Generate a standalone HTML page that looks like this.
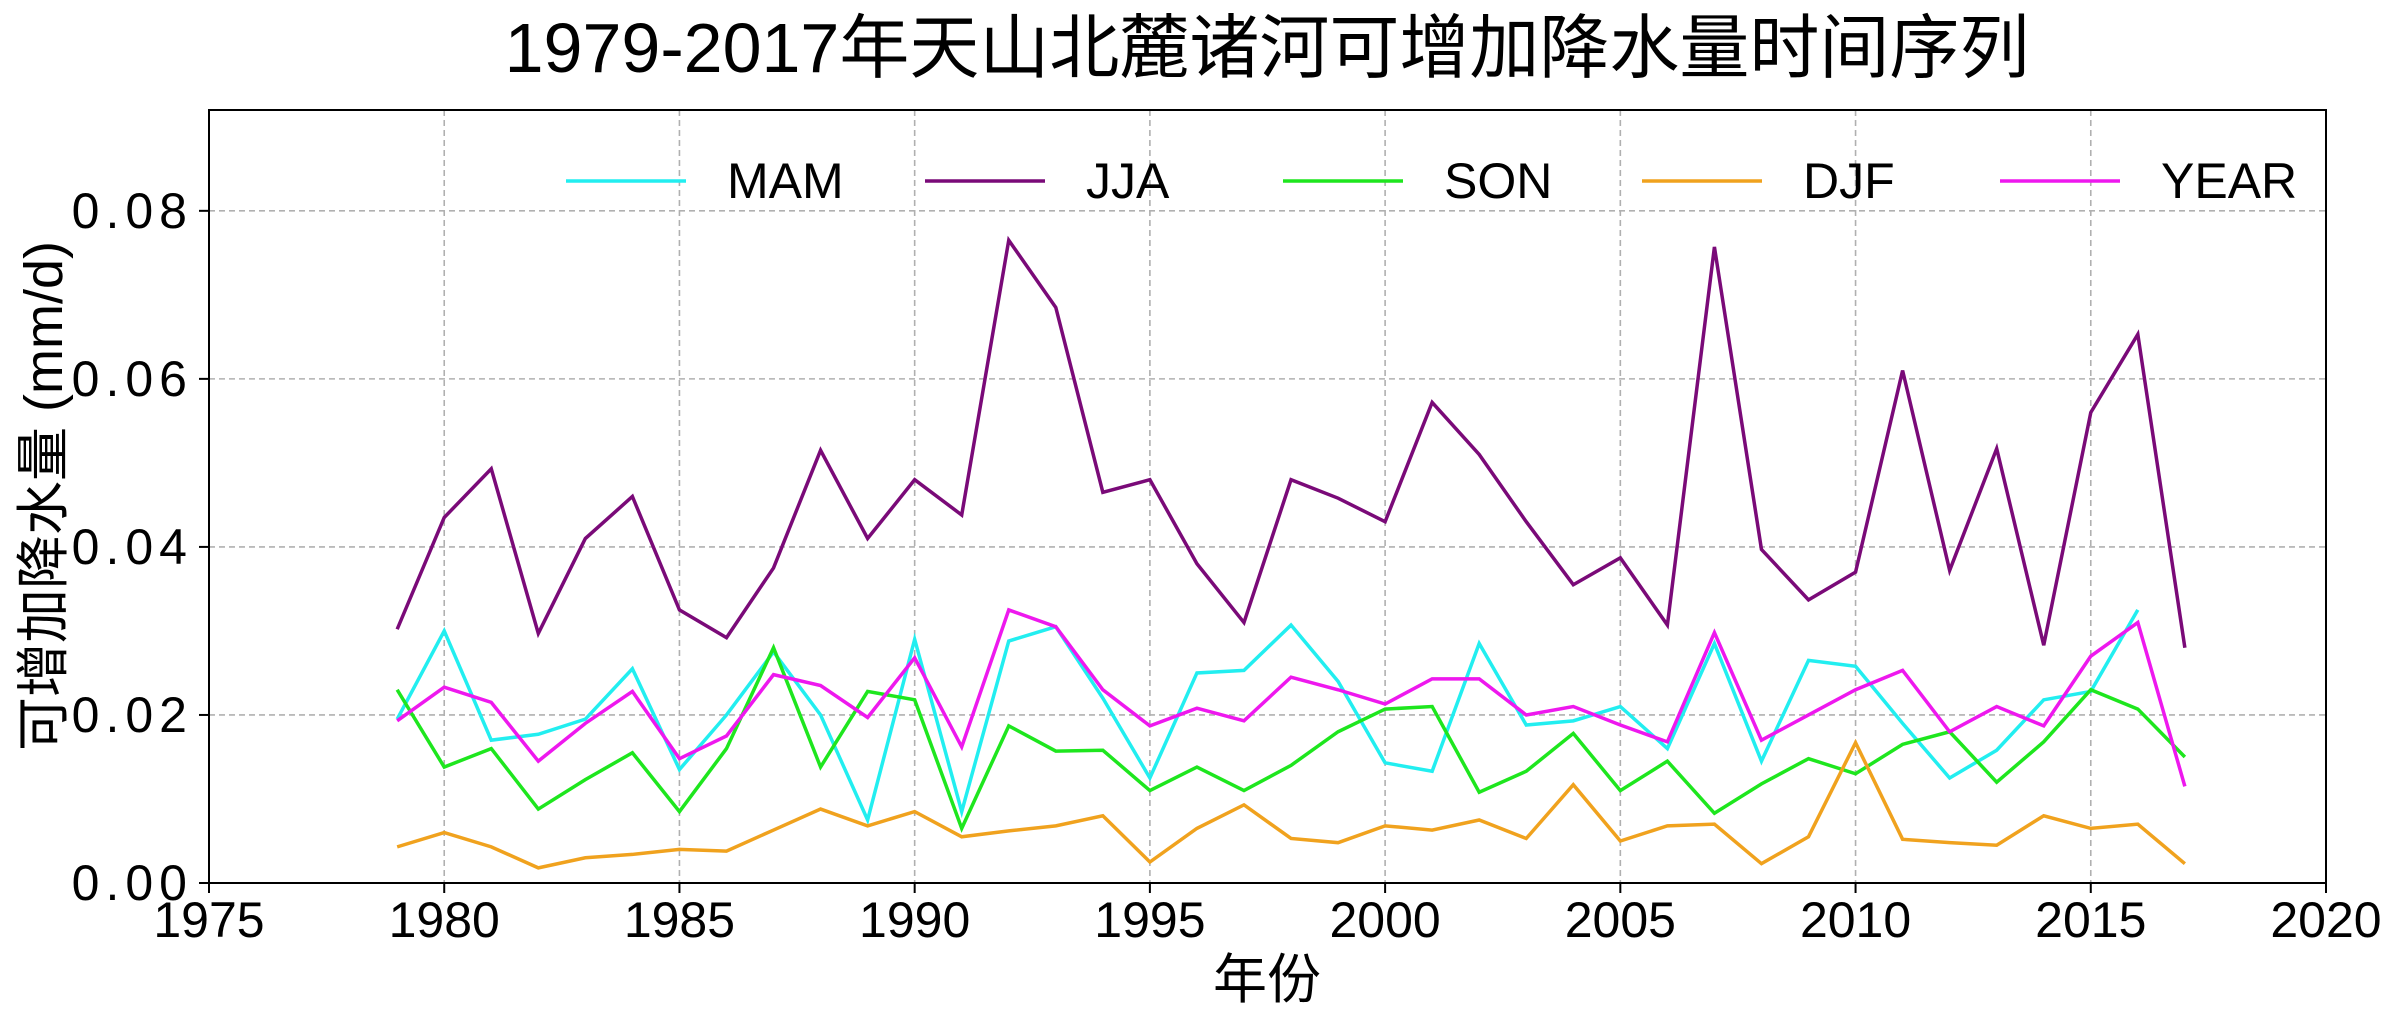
<!DOCTYPE html>
<html><head><meta charset="utf-8"><style>
html,body{margin:0;padding:0;background:#fff;}
svg{display:block;font-family:"Liberation Sans","Noto Sans CJK SC",sans-serif;}
</style></head><body>
<svg id="chart" width="2400" height="1025" viewBox="0 0 2400 1025" xmlns="http://www.w3.org/2000/svg">
<text x="1267" y="72" font-size="70" text-anchor="middle">1979-2017年天山北麓诸河可增加降水量时间序列</text>
<text transform="translate(62,496) rotate(-90)" font-size="54" text-anchor="middle">可增加降水量 (mm/d)</text>
<text x="1267" y="998" font-size="54" text-anchor="middle">年份</text>
<g id="grid"></g><g id="series"></g><g id="axes"></g><g id="legend"></g>
</svg>
<script>
const years = [];
for (let y = 1979; y <= 2017; y++) years.push(y);
const mam = [0.0195,0.030,0.017,0.0177,0.0195,0.0255,0.0135,0.020,0.0275,0.020,0.0075,0.029,0.0085,0.0288,0.0305,0.022,0.0125,0.025,0.0253,0.0307,0.024,0.0143,0.0133,0.0285,0.0188,0.0193,0.021,0.016,0.0285,0.0145,0.0265,0.0258,0.019,0.0125,0.0158,0.0218,0.0228,0.0325];
const jja = [0.0302,0.0435,0.0493,0.0297,0.041,0.046,0.0325,0.0292,0.0375,0.0515,0.041,0.048,0.0438,0.0765,0.0685,0.0465,0.048,0.038,0.031,0.048,0.0458,0.043,0.0572,0.051,0.043,0.0355,0.0387,0.0307,0.0757,0.0397,0.0337,0.037,0.061,0.0372,0.0517,0.0283,0.056,0.0653,0.028];
const son = [0.023,0.0138,0.016,0.0088,0.0123,0.0155,0.0085,0.016,0.028,0.0138,0.0228,0.0218,0.0065,0.0187,0.0157,0.0158,0.011,0.0138,0.011,0.014,0.018,0.0207,0.021,0.0108,0.0133,0.0178,0.011,0.0145,0.0083,0.0118,0.0148,0.013,0.0165,0.018,0.012,0.0168,0.023,0.0207,0.015];
const djf = [0.0043,0.006,0.0043,0.0018,0.003,0.0034,0.004,0.0038,0.0063,0.0088,0.0068,0.0085,0.0055,0.0062,0.0068,0.008,0.0025,0.0065,0.0093,0.0053,0.0048,0.0068,0.0063,0.0075,0.0053,0.0117,0.005,0.0068,0.007,0.0023,0.0055,0.0167,0.0052,0.0048,0.0045,0.008,0.0065,0.007,0.0023];
const yearAvg = [0.0193,0.0233,0.0215,0.0145,0.019,0.0228,0.0148,0.0175,0.0248,0.0235,0.0197,0.0268,0.0162,0.0325,0.0305,0.023,0.0187,0.0208,0.0193,0.0245,0.023,0.0213,0.0243,0.0243,0.02,0.021,0.0188,0.0168,0.0298,0.017,0.02,0.023,0.0253,0.018,0.021,0.0187,0.027,0.031,0.0115];
const xTicks = [1975,1980,1985,1990,1995,2000,2005,2010,2015,2020];
const yTicks = [0,0.02,0.04,0.06,0.08];
const yTickLabels = ["0.00","0.02","0.04","0.06","0.08"];
const seriesNames = ["MAM","JJA","SON","DJF","YEAR"];
const seriesColors = ["#22eef0","#7a0a78","#1ee61e","#f0a21e","#ee18ee"];

const L=209,R=2326,T=110,B=883,XMIN=1975,XMAX=2020,YMIN=0,YMAX=0.092;
const sx=v=>L+(v-XMIN)/(XMAX-XMIN)*(R-L);
const sy=v=>B-(v-YMIN)/(YMAX-YMIN)*(B-T);
const NS="http://www.w3.org/2000/svg";
function mk(tag,parent,attrs){const e=document.createElementNS(NS,tag);for(const k in attrs)e.setAttribute(k,attrs[k]);parent.appendChild(e);return e;}
const grid=document.getElementById('grid'),axes=document.getElementById('axes'),ser=document.getElementById('series'),leg=document.getElementById('legend');
xTicks.forEach(t=>{
  const g=mk('line',grid,{x1:sx(t),x2:sx(t),y1:T,y2:B,stroke:'#b0b0b0','stroke-width':1.6,'stroke-dasharray':'6,4'});
  
  
  const tk=mk('line',axes,{x1:sx(t),x2:sx(t),y1:B,y2:B+10,stroke:'#000','stroke-width':2});
  
  
  const tx=mk('text',axes,{x:sx(t),y:B+54,'font-size':50,'text-anchor':'middle'});
  tx.textContent=t;
  
  
});
yTicks.forEach((t,i)=>{
  const g=mk('line',grid,{x1:L,x2:R,y1:sy(t),y2:sy(t),stroke:'#b0b0b0','stroke-width':1.6,'stroke-dasharray':'6,4'});
  
  
  const tk=mk('line',axes,{x1:L-10,x2:L,y1:sy(t),y2:sy(t),stroke:'#000','stroke-width':2});
  
  
  const tx=mk('text',axes,{x:L-16,y:sy(t)+17,'font-size':50,'text-anchor':'end','letter-spacing':6});
  tx.textContent=yTickLabels[i];
  
  
});
const frame=mk('rect',axes,{x:L,y:T,width:R-L,height:B-T,fill:'none',stroke:'#000','stroke-width':2});


const data=[mam,jja,son,djf,yearAvg];
data.forEach((arr,si)=>{
  const pts=arr.map((v,i)=>sx(years[i])+','+sy(v)).join(' ');
  const p=mk('polyline',ser,{points:pts,fill:'none',stroke:seriesColors[si],'stroke-width':3.5,'stroke-linejoin':'miter'});
  
  
});
const legX=[566,925,1283,1642,2000];
seriesNames.forEach((n,i)=>{
  const ln=mk('line',leg,{x1:legX[i],x2:legX[i]+120,y1:181,y2:181,stroke:seriesColors[i],'stroke-width':3.5});
  
  
  const tx=mk('text',leg,{x:legX[i]+161,y:198,'font-size':50});
  tx.textContent=n;
  
  
});
</script>
</body></html>
